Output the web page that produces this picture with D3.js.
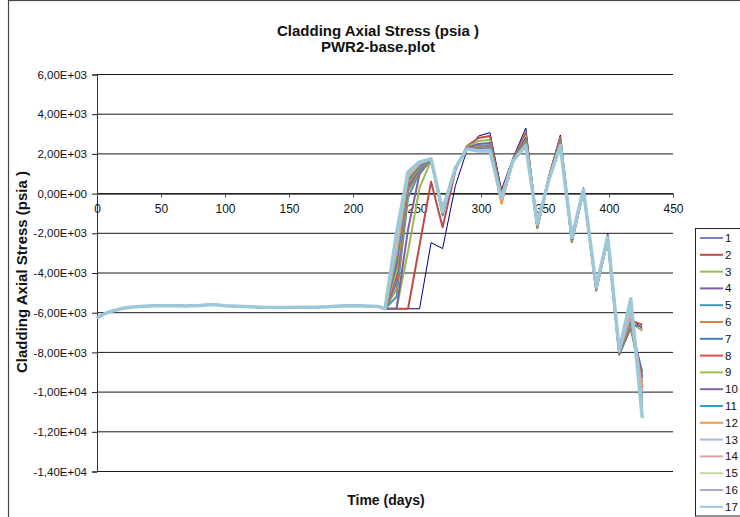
<!DOCTYPE html>
<html>
<head>
<meta charset="utf-8">
<script src="https://cdn.jsdelivr.net/npm/d3@7/dist/d3.min.js"></script>
<style>
  html, body { margin: 0; padding: 0; background: #fff; overflow: hidden; }
  svg { display: block; font-family: "Liberation Sans", Arial, sans-serif; }
</style>
</head>
<body>
<svg id="chart" width="740" height="517"></svg>
<script>
// Shared start-up history (days, psia) common to every axial node
const baseDays = [0, 5, 10, 20, 30, 40, 50, 60, 70, 80, 90, 100, 110, 120, 130, 140, 150, 160, 170, 180, 190, 200, 210, 220];
const baseStress = [-6270, -6080, -5950, -5780, -5700, -5660, -5650, -5650, -5660, -5640, -5590, -5650, -5680, -5700, -5730, -5740, -5740, -5730, -5720, -5700, -5660, -5650, -5660, -5690];

// Transient period, one row per axial node (1..17)
const stageDays = [225, 234, 243, 252, 261, 270, 280, 289, 298, 307, 316, 325, 335, 344, 353, 362, 371, 380, 390, 399, 408, 417, 426];
const stageStress = [
  [-5800, -5800, -5800, -5800, -2470, -2770, 400, 2170, 2900, 3070, 200, 1800, 3300, -1500, 900, 2950, -2200, 300, -4600, -2000, -7800, -6300, -6800],
  [-5800, -5800, -5800, -2600, 600, -1700, 1160, 2400, 2800, 2900, 0, 1750, 3050, -1600, 850, 2850, -2250, 250, -4700, -2100, -7900, -6400, -6600],
  [-5800, -5800, -2900, 300, 1650, -700, 1300, 2350, 2650, 2700, -150, 1700, 2900, -1650, 800, 2750, -2300, 200, -4750, -2150, -7950, -6500, -6900],
  [-5800, -5800, -1800, 1000, 1700, -800, 1300, 2300, 2500, 2550, -200, 1700, 2800, -1700, 780, 2700, -2350, 180, -4800, -2200, -8000, -6600, -6700],
  [-5800, -5200, -200, 1100, 1700, -1100, 1300, 2250, 2400, 2450, -300, 1650, 2700, -1700, 750, 2650, -2400, 150, -4850, -2250, -8050, -6700, -9200],
  [-5800, -4800, 100, 1200, 1700, -900, 1300, 2250, 2350, 2400, -500, 1650, 2650, -1750, 720, 2600, -2450, 120, -4900, -2300, -8100, -6800, -9500],
  [-5800, -4500, 300, 1250, 1720, -900, 1300, 2250, 2300, 2350, -300, 1650, 2600, -1700, 700, 2550, -2400, 150, -4850, -2300, -8100, -6700, -9000],
  [-5800, -4200, 450, 1300, 1720, -950, 1300, 2250, 2280, 2300, -350, 1650, 2580, -1650, 700, 2530, -2350, 150, -4800, -2250, -8050, -6600, -9800],
  [-5800, -3900, 550, 1350, 1720, -900, 1300, 2250, 2260, 2280, -300, 1650, 2550, -1650, 700, 2500, -2350, 160, -4800, -2250, -8000, -6500, -10000],
  [-5800, -3600, 650, 1400, 1730, -950, 1300, 2250, 2240, 2260, -350, 1650, 2520, -1600, 700, 2480, -2300, 170, -4780, -2250, -8000, -6400, -9300],
  [-5800, -3300, 750, 1450, 1730, -1000, 1300, 2250, 2220, 2240, -350, 1650, 2500, -1600, 700, 2460, -2300, 180, -4760, -2250, -7980, -6300, -10300],
  [-5800, -3000, 800, 1500, 1740, -900, 1300, 2250, 2200, 2220, -500, 1650, 2480, -1600, 700, 2450, -2250, 190, -4740, -2200, -7950, -6200, -9700],
  [-5800, -2800, 900, 1520, 1740, -900, 1300, 2250, 2190, 2200, -300, 1650, 2460, -1550, 700, 2440, -2250, 190, -4730, -2200, -7950, -6000, -10500],
  [-5800, -2600, 950, 1550, 1750, -900, 1300, 2250, 2180, 2190, -300, 1650, 2440, -1550, 700, 2420, -2230, 200, -4720, -2200, -7930, -5800, -10000],
  [-5800, -2400, 1000, 1570, 1750, -900, 1300, 2250, 2170, 2180, -280, 1650, 2420, -1520, 700, 2410, -2220, 200, -4710, -2200, -7920, -5600, -10800],
  [-5800, -2200, 1050, 1590, 1750, -900, 1300, 2250, 2160, 2160, -260, 1650, 2410, -1510, 700, 2400, -2210, 200, -4700, -2200, -7910, -5450, -10600],
  [-5800, -2000, 1100, 1600, 1750, -900, 1300, 2250, 2150, 2150, -250, 1650, 2400, -1500, 700, 2400, -2200, 200, -4700, -2200, -7900, -5300, -11300]
];

const seriesNames = ["1", "2", "3", "4", "5", "6", "7", "8", "9", "10", "11", "12", "13", "14", "15", "16", "17"];
const seriesColors = ["#000080", "#BE4B48", "#98B954", "#7D60A0", "#4198AF", "#DB843D", "#4A7EBB", "#D9534F",
  "#9BC348", "#8064A2", "#2CA5C5", "#F79646", "#A5B9E0", "#D9A5A4", "#C3D89E", "#B3A7CF", "#9DC8D8"];

const xTicks = [0, 50, 100, 150, 200, 250, 300, 350, 400, 450];
const yTicks = [6000, 4000, 2000, 0, -2000, -4000, -6000, -8000, -10000, -12000, -14000];
const yTickLabels = ["6,00E+03", "4,00E+03", "2,00E+03", "0,00E+00", "-2,00E+03", "-4,00E+03", "-6,00E+03",
  "-8,00E+03", "-1,00E+04", "-1,20E+04", "-1,40E+04"];

const svg = d3.select("#chart");

const x = d3.scaleLinear().domain([0, 450]).range([97, 673]);
const y = d3.scaleLinear().domain([-14000, 6000]).range([471.5, 74.5]);

// Chart area frame
svg.append("rect")
  .attr("x", 8.5).attr("y", 0.5).attr("width", 800).attr("height", 600)
  .attr("fill", "#fff").attr("stroke", "#444").attr("stroke-width", 1.2);

// Horizontal gridlines
svg.append("g")
  .selectAll("line")
  .data(yTicks)
  .join("line")
  .attr("x1", x(0)).attr("x2", x(450))
  .attr("y1", d => y(d)).attr("y2", d => y(d))
  .attr("stroke", "#1a1a1a").attr("stroke-width", 1);

// Y axis
const yAxis = d3.axisLeft(y)
  .tickValues(yTicks)
  .tickFormat((d, i) => yTickLabels[i])
  .tickSize(5)
  .tickPadding(5);
const gy = svg.append("g").attr("transform", `translate(${x(0)},0)`).call(yAxis);
gy.select(".domain").attr("stroke", "#333");
gy.selectAll(".tick line").attr("stroke", "#1a1a1a");
gy.selectAll(".tick text").attr("font-size", 11.5).attr("fill", "#111")
  .attr("font-family", "'Liberation Sans', Arial, sans-serif");

// X axis crossing at zero stress
const xAxis = d3.axisBottom(x)
  .tickValues(xTicks)
  .tickFormat(d3.format("d"))
  .tickSize(4)
  .tickPadding(7)
  .tickSizeOuter(0);
const gx = svg.append("g").attr("transform", `translate(0,${y(0)})`).call(xAxis);
gx.select(".domain").attr("stroke", "#1a1a1a");
gx.selectAll(".tick line").attr("stroke", "#555");
gx.selectAll(".tick text").attr("font-size", 12).attr("fill", "#111")
  .attr("font-family", "'Liberation Sans', Arial, sans-serif");

// Series lines
const line = d3.line().x(d => x(d[0])).y(d => y(d[1]));
const seriesData = stageStress.map(row =>
  baseDays.map((d, i) => [d, baseStress[i]]).concat(stageDays.map((d, i) => [d, row[i]]))
);
const widthFor = i => (i === 0 ? 1 : i === 16 ? 3.5 : 2);

svg.append("g")
  .selectAll("path")
  .data(seriesData)
  .join("path")
  .attr("d", line)
  .attr("fill", "none")
  .attr("stroke", (d, i) => seriesColors[i])
  .attr("stroke-width", (d, i) => widthFor(i))
  .attr("stroke-linejoin", "round");

// Titles
const title = svg.append("text")
  .attr("x", 378).attr("text-anchor", "middle")
  .attr("font-weight", "bold").attr("font-size", 15).attr("fill", "#111");
title.append("tspan").attr("x", 378).attr("y", 36).text("Cladding Axial Stress (psia )");
title.append("tspan").attr("x", 378).attr("y", 52).text("PWR2-base.plot");

svg.append("text")
  .attr("x", 386).attr("y", 505)
  .attr("text-anchor", "middle")
  .attr("font-weight", "bold").attr("font-size", 14).attr("fill", "#111")
  .text("Time (days)");

svg.append("text")
  .attr("transform", "translate(27,272) rotate(-90)")
  .attr("text-anchor", "middle")
  .attr("font-weight", "bold").attr("font-size", 15).attr("fill", "#111")
  .text("Cladding Axial Stress (psia )");

// Legend
const legend = svg.append("g");
legend.append("rect")
  .attr("x", 695.5).attr("y", 228.5).attr("width", 80).attr("height", 287.5)
  .attr("fill", "#fff").attr("stroke", "#222").attr("stroke-width", 1);
const rows = legend.selectAll("g.row")
  .data(seriesNames)
  .join("g")
  .attr("class", "row")
  .attr("transform", (d, i) => `translate(0,${238 + i * 16.8})`);
rows.append("line")
  .attr("x1", 700).attr("x2", 723).attr("y1", 0).attr("y2", 0)
  .attr("stroke", (d, i) => seriesColors[i])
  .attr("stroke-width", (d, i) => (i === 0 ? 1 : 2));
rows.append("text")
  .attr("x", 725).attr("y", 4)
  .attr("font-size", 11.5).attr("fill", "#111")
  .text(d => d);
</script>
</body>
</html>
